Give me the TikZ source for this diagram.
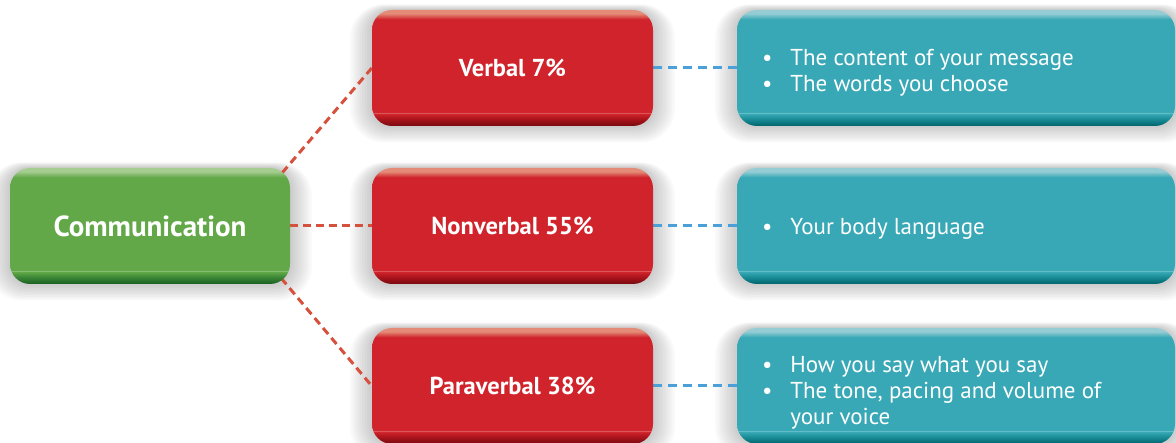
\documentclass[tikz,border=0pt]{standalone}
\usepackage{fontspec}
\setmainfont{PT Sans}
\usetikzlibrary{backgrounds}
% colours
\definecolor{grn}{RGB}{98,168,72}
\definecolor{grnL}{RGB}{165,205,145}
\definecolor{grnLine}{RGB}{140,195,120}
\definecolor{grnD}{RGB}{25,95,35}
\definecolor{grnM}{RGB}{60,135,55}
\definecolor{rd}{RGB}{208,35,43}
\definecolor{rdL}{RGB}{228,140,120}
\definecolor{rdLine}{RGB}{225,100,100}
\definecolor{rdD}{RGB}{120,10,15}
\definecolor{rdM}{RGB}{170,20,28}
\definecolor{tl}{RGB}{56,168,182}
\definecolor{tlL}{RGB}{150,205,212}
\definecolor{tlLine}{RGB}{110,195,205}
\definecolor{tlD}{RGB}{0,100,108}
\definecolor{tlM}{RGB}{25,140,150}
\definecolor{dashred}{RGB}{214,80,62}
\definecolor{dashblue}{RGB}{75,160,215}
% bevel shadings (25bp..75bp = bottom..top of the path)
\pgfdeclareverticalshading{greenbev}{100bp}{color(0bp)=(grnD); color(25bp)=(grnD); color(28bp)=(grnM); color(30.2bp)=(grn); color(30.5bp)=(grnLine); color(31bp)=(grn); color(71bp)=(grn); color(73.5bp)=(grnL); color(75bp)=(grnL); color(100bp)=(grnL)}
\pgfdeclareverticalshading{redbev}{100bp}{color(0bp)=(rdD); color(25bp)=(rdD); color(28bp)=(rdM); color(30.2bp)=(rd); color(30.5bp)=(rdLine); color(31bp)=(rd); color(71bp)=(rd); color(73.5bp)=(rdL); color(75bp)=(rdL); color(100bp)=(rdL)}
\pgfdeclareverticalshading{tealbev}{100bp}{color(0bp)=(tlD); color(25bp)=(tlD); color(28bp)=(tlM); color(30.2bp)=(tl); color(30.5bp)=(tlLine); color(31bp)=(tl); color(71bp)=(tl); color(73.5bp)=(tlL); color(75bp)=(tlL); color(100bp)=(tlL)}
\tikzset{
  bevbox/.style={rounded corners=20pt, inner sep=0pt, minimum height=116pt, shade, text=white},
  greenbox/.style={bevbox, shading=greenbev, minimum width=280pt, font=\bfseries\fontsize{29}{33}\selectfont},
  redbox/.style={bevbox, shading=redbev, minimum width=281pt, font=\bfseries\fontsize{24.5}{28}\selectfont},
  tealbox/.style={bevbox, shading=tealbev, minimum width=438pt},
  bullets/.style={anchor=west, text=white, inner sep=0pt, align=left, font=\fontsize{23}{26}\selectfont},
  reddash/.style={draw=dashred, line width=3pt, dash pattern=on 8pt off 5pt},
  bluedash/.style={draw=dashblue, line width=3pt, dash pattern=on 9pt off 6pt},
  softshadow/.style={fill=black, opacity=0.022}
}
\newcommand{\bulletlist}[1]{\begin{tabular}{@{}l@{\hspace{18pt}}l@{}}#1\end{tabular}}
\begin{document}
\begin{tikzpicture}[x=1pt,y=1pt]
\useasboundingbox (0,0) rectangle (1176,443);
% boxes
\node[greenbox] (comm) at (150,217) {Communication};
\node[redbox] (v)  at (512.5,375) {Verbal 7\%};
\node[redbox] (nv) at (512.5,217) {Nonverbal 55\%};
\node[redbox] (pv) at (512.5,57)  {Paraverbal 38\%};
\node[tealbox] (tv)  at (956,375) {};
\node[tealbox] (tnv) at (956,217) {};
\node[tealbox] (tpv) at (956,57)  {};
% texts
\renewcommand{\arraystretch}{1}
\node[bullets] (tvt)  at ([xshift=25pt,yshift=-5pt]tv.west)  {\bulletlist{•&The content of your message\\ •&The words you choose}};
\node[bullets] (tnvt) at ([xshift=25pt,yshift=-3pt]tnv.west) {\bulletlist{•&Your body language}};
\node[bullets] (tpvt) at ([xshift=25pt,yshift=-7pt]tpv.west) {\bulletlist{•&How you say what you say\\ •&The tone, pacing and volume of\\ &your voice}};
% shadows and connectors behind
\begin{scope}[on background layer]
\foreach \n in {comm,v,nv,pv,tv,tnv,tpv}{
  \foreach \i in {1,...,9}{
    \fill[softshadow, rounded corners=20pt+\i*1.5pt]
      ([shift={(-\i*2.4pt,-\i*1.8pt)}]\n.south west) rectangle ([shift={(\i*2.4pt,\i*0.6pt)}]\n.north east);
  }
}
\draw[reddash] ([xshift=-8pt,yshift=-5pt]comm.north east) -- (v.west);
\draw[reddash] (comm.east) -- (nv.west);
\draw[reddash] ([xshift=-9pt,yshift=6pt]comm.south east) -- (pv.west);
\draw[bluedash] (v.east) -- (tv.west);
\draw[bluedash] (nv.east) -- (tnv.west);
\draw[bluedash] (pv.east) -- (tpv.west);
\end{scope}
\end{tikzpicture}
\end{document}
